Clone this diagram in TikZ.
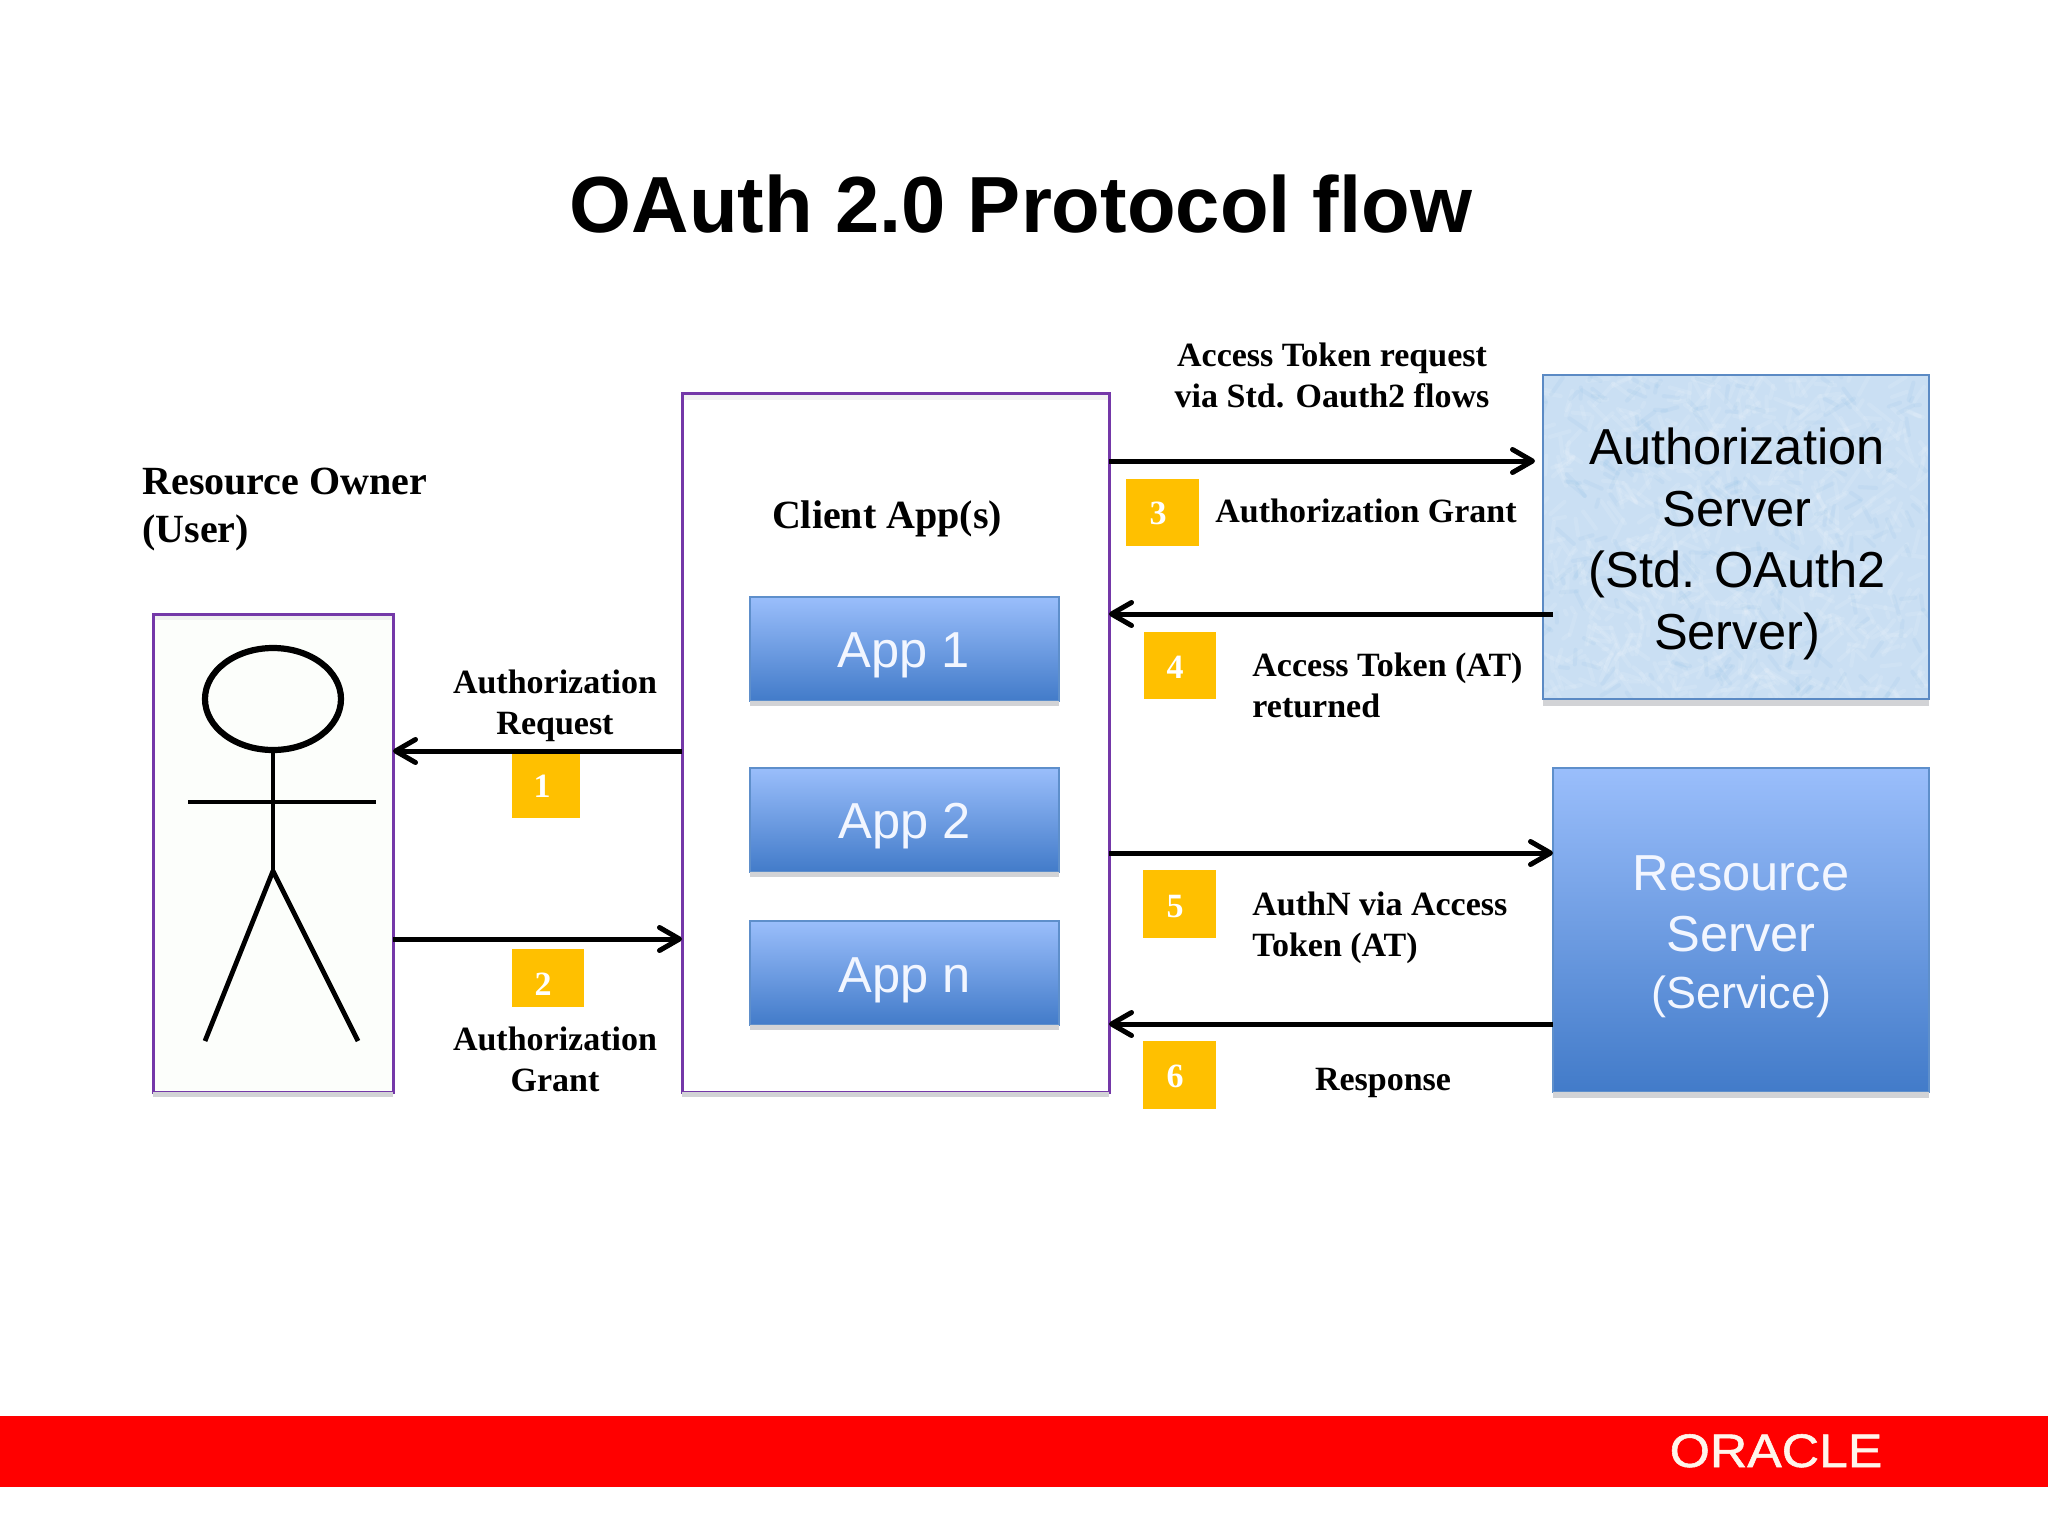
\documentclass[tikz,border=0pt]{standalone}
\usepackage{fontspec}
\setmainfont{Liberation Sans}
\newfontfamily\tms{Liberation Serif}
\newfontfamily\orc{Liberation Sans}[FakeBold=1.2,FakeStretch=1.1]
\usetikzlibrary{arrows.meta,shapes.geometric}
\definecolor{purp}{HTML}{7438A8}
\definecolor{badge}{HTML}{FFC000}
\definecolor{shadowc}{HTML}{D2D3D6}
\definecolor{gtop}{HTML}{9ABEFB}
\definecolor{gmid}{HTML}{6F9DE2}
\definecolor{gbot}{HTML}{427BC9}
\definecolor{gline}{HTML}{5E8FCB}
\definecolor{bluetxt}{HTML}{F2F6FF}
\definecolor{asfill}{HTML}{CADFF3}
\definecolor{asline}{HTML}{5B8AC4}
\definecolor{userfill}{HTML}{FCFEFB}
\tikzset{
  px/.style={x=0.5pt,y=-0.5pt},
  frame/.style={draw=purp,line width=1.5pt,fill=white,inner sep=0pt,outer sep=0pt},
  blue/.style={rectangle,inner sep=0pt,outer sep=0pt,top color=gtop,middle color=gmid,bottom color=gbot,draw=gline,line width=0.6pt},
  badgebox/.style={fill=badge,inner sep=0pt,outer sep=0pt},
  arr/.style={draw=black,line width=2.5pt,-{Straight Barb[length=10pt,width=11.5pt,line width=2.5pt,round]}},
  lab/.style={font=\tms\bfseries\fontsize{17}{20.3}\selectfont,inner sep=0pt,text=black,anchor=base},
  bigl/.style={font=\tms\bfseries\fontsize{20}{24}\selectfont,inner sep=0pt,anchor=base},
  num/.style={font=\tms\bfseries\fontsize{17}{20}\selectfont,text=white,inner sep=0pt,anchor=base},
  sv/.style={font=\fontsize{25.3}{30.7}\selectfont,inner sep=0pt,anchor=base,align=center},
  stick/.style={draw=black,line width=2.4pt},
  topband/.style={fill=gray!12},
}
\newcommand\rectnode[6]{%
  \pgfmathsetmacro\rcx{(#3+#5)/2}\pgfmathsetmacro\rcy{(#4+#6)/2}%
  \pgfmathsetmacro\rrw{(#5-#3)/2}\pgfmathsetmacro\rrh{(#6-#4)/2}%
  \node[#2,minimum width=\rrw pt,minimum height=\rrh pt] (#1) at (\rcx,\rcy) {};}
\newcommand\shadowof[2]{\fill[shadowc] (#1.south west) rectangle ([yshift=-#2]#1.south east);}
\begin{document}
\begin{tikzpicture}[px]
\useasboundingbox (0,0) rectangle (2048,1536);
\fill[white] (0,0) rectangle (2048,1536);
% footer
\rectnode{bar}{fill=red,inner sep=0pt,outer sep=0pt}{0}{1416}{2048}{1487}
\node[font=\orc\fontsize{23.5}{28}\selectfont,text=white!92!orange,inner sep=0pt,anchor=base] (oracle) at (1776,1467) {ORACLE};
% title
\node[font=\bfseries\fontsize{39.8}{46}\selectfont,inner sep=0pt,anchor=base] (title) at (1021,232) {OAuth 2.0 Protocol flow};
% user
\rectnode{user}{frame,fill=userfill}{153}{614}{393}{1092}
\shadowof{user}{2.5pt}
\fill[topband] ([shift={(0.75pt,-0.75pt)}]user.north west) rectangle ([shift={(-0.75pt,-3.2pt)}]user.north east);
\node[bigl,anchor=base west,align=left] (owner) at (142,542) {Resource Owner\\(User)};
\node[draw=black,line width=3.1pt,ellipse,minimum width=68pt,minimum height=51pt,inner sep=0pt,outer sep=0pt] (head) at (273,699) {};
\coordinate (hip) at (273,871);
\coordinate (larm) at (188,802); \coordinate (rarm) at (376,802);
\coordinate (lfoot) at (205,1041); \coordinate (rfoot) at (358,1041);
\draw[stick] (head.south) -- (hip);
\draw[stick] (larm) -- (rarm);
\draw[stick,line join=round] (lfoot) -- (hip) -- (rfoot);
% client
\rectnode{client}{frame}{682}{393}{1109}{1092}
\shadowof{client}{2.5pt}
\fill[gray!10] ([shift={(0.75pt,-0.75pt)}]client.north west) rectangle ([shift={(-0.75pt,-3.5pt)}]client.north east);
\node[bigl] (clientlab) at (887,528) {Client App(s)};
\rectnode{app1}{blue}{750}{597}{1059}{701}
\rectnode{app2}{blue}{750}{768}{1059}{872}
\rectnode{appn}{blue}{750}{921}{1059}{1025}
\shadowof{app1}{2.5pt}\shadowof{app2}{2.5pt}\shadowof{appn}{2.5pt}
\node[sv,text=bluetxt] (t1) at (904,667) {App 1};
\node[sv,text=bluetxt] (t2) at (905,838) {App 2};
\node[sv,text=bluetxt] (tn) at (905,992) {App n};
% auth server
\rectnode{auth}{fill=asfill,inner sep=0pt,outer sep=0pt}{1543}{375}{1929}{699}
\shadowof{auth}{3.5pt}
\begin{scope}
\clip (auth.south west) rectangle (auth.north east);
\pgfmathsetseed{7}
\foreach \i in {1,...,700}{
  \pgfmathsetmacro\ax{1543+rnd*386}\pgfmathsetmacro\ay{375+rnd*324}
  \pgfmathsetmacro\bx{\ax+(rnd-0.5)*44}\pgfmathsetmacro\by{\ay+(rnd-0.5)*44}
  \draw[white,opacity=0.11,line width=2pt,line cap=round] (\ax,\ay) -- (\bx,\by);
}
\foreach \i in {1,...,250}{
  \pgfmathsetmacro\ax{1543+rnd*386}\pgfmathsetmacro\ay{375+rnd*324}
  \pgfmathsetmacro\bx{\ax+(rnd-0.5)*36}\pgfmathsetmacro\by{\ay+(rnd-0.5)*36}
  \draw[blue!40!cyan!60!gray,opacity=0.05,line width=2pt,line cap=round] (\ax,\ay) -- (\bx,\by);
}
\end{scope}
\draw[asline,line width=0.9pt] (auth.south west) rectangle (auth.north east);
\node[sv,text=black] (authlab) at (1737,649) {Authorization\\Server\\(Std. OAuth2\\Server)};
% resource server
\rectnode{res}{blue}{1553}{768}{1929}{1092}
\shadowof{res}{3pt}
\node[sv,text=bluetxt] (reslab) at (1741,1008) {Resource\\Server\\[-2.5pt]{\fontsize{22.5}{27}\selectfont (Service)}};
% badges
\rectnode{b1}{badgebox}{512}{753}{580}{818}
\rectnode{b2}{badgebox}{512}{949}{584}{1007}
\rectnode{b3}{badgebox}{1126}{479}{1199}{546}
\rectnode{b4}{badgebox}{1144}{632}{1216}{699}
\rectnode{b5}{badgebox}{1143}{870}{1216}{938}
\rectnode{b6}{badgebox}{1143}{1041}{1216}{1109}
\node[num] (n1) at (542,797) {1};
\node[num] (n2) at (543,995) {2};
\node[num] (n3) at (1158,524) {3};
\node[num] (n4) at (1175,678) {4};
\node[num] (n5) at (1175,917) {5};
\node[num] (n6) at (1175,1087) {6};
% labels
\node[lab,align=center] (l1) at (555,734) {Authorization\\Request};
\node[lab,align=center] (l2) at (555,1091) {Authorization\\Grant};
\node[lab,align=center] (l3a) at (1332,407) {Access Token request\\via Std. Oauth2 flows};
\node[lab,anchor=base west] (l3) at (1215,522) {Authorization Grant};
\node[lab,anchor=base west,align=left] (l4) at (1252,717) {Access Token (AT)\\returned};
\node[lab,anchor=base west,align=left] (l5) at (1252,956) {AuthN via Access\\Token (AT)};
\node[lab] (l6) at (1383,1090) {Response};
% connectors
\coordinate (c1) at (682,751);
\coordinate (c2) at (682,939);
\coordinate (c3) at (1109,461); \coordinate (a3) at (1535,461);
\coordinate (c4) at (1553,614);
\draw[arr] (client.west |- c1) -- (user.east |- c1);
\draw[arr] (user.east |- c2) -- (client.west |- c2);
\draw[arr] (client.east |- c3) -- (a3);
\draw[arr] (c4) -- (client.east |- c4);
\coordinate (c5) at (1109,853); \coordinate (c6) at (1553,1024);
\draw[arr] (client.east |- c5) -- (res.west |- c5);
\draw[arr] (res.west |- c6) -- (client.east |- c6);
\end{tikzpicture}
\end{document}
